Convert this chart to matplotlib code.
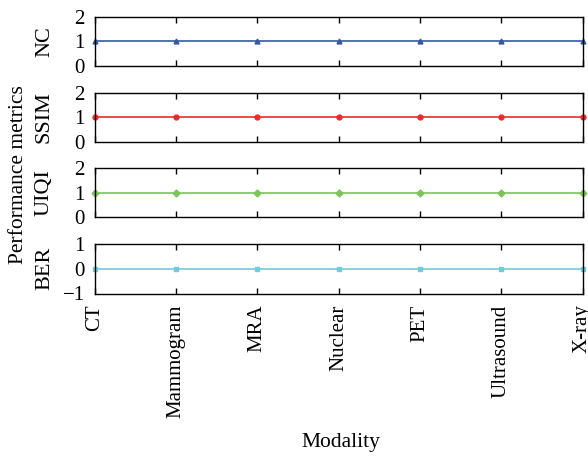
import numpy as np
import matplotlib.pyplot as plt

modalities = ['CT', 'Mammogram', 'MRA', 'Nuclear', 'PET', 'Ultrasound', 'X-ray']
nc = [1, 1, 1, 1, 1, 1, 1]
ssim = [1, 1, 1, 1, 1, 1, 1]
uiqi = [1, 1, 1, 1, 1, 1, 1]
ber = [0, 0, 0, 0, 0, 0, 0]

series = [
    ('NC', nc, '#3557a8', '^', (0, 2), [0, 1, 2]),
    ('SSIM', ssim, '#ee2a2a', 'o', (0, 2), [0, 1, 2]),
    ('UIQI', uiqi, '#7cc35a', 'D', (0, 2), [0, 1, 2]),
    ('BER', ber, '#72cbd9', 's', (-1, 1), [-1, 0, 1]),
]

plt.rcParams['font.family'] = ['Liberation Serif', 'DejaVu Serif']
plt.rcParams['axes.linewidth'] = 1.0

fig = plt.figure(figsize=(5.88, 4.57), dpi=100)
W, H = 588, 457
left, right = 94.5, 582.5
tops = [16.5, 92.5, 168, 244]
height = 49.5

x = np.arange(len(modalities))
for (name, vals, color, marker, ylim, yt), top in zip(series, tops):
    ax = fig.add_axes([left / W, 1 - (top + height) / H, (right - left) / W, height / H])
    ax.plot(x, vals, color=color, marker=marker, markersize=3.5, linewidth=1.2, clip_on=False)
    ax.set_xlim(0, len(modalities) - 1)
    ax.set_ylim(*ylim)
    ax.set_yticks(yt)
    ax.set_yticklabels(['\u22121' if v == -1 else str(v) for v in yt])
    ax.set_ylabel(name, fontsize=16)
    ax.yaxis.set_label_coords(-(left - 54) / (right - left), 0.5)
    ax.set_xticks(x)
    ax.tick_params(axis='x', direction='in', top=True, length=4, width=1, pad=8)
    ax.tick_params(axis='y', length=0, pad=7, labelsize=15)
    if top != tops[-1]:
        ax.set_xticklabels([])
    else:
        ax.set_xticklabels(modalities, rotation=90, fontsize=15)

fig.text(19 / W, 1 - 175 / H, 'Performance metrics', rotation=90, ha='center', va='center', fontsize=15.5)
fig.text(341 / W, 1 - 443 / H, 'Modality', ha='center', va='center', fontsize=15.5)

fig.savefig('out.png', dpi=100)
